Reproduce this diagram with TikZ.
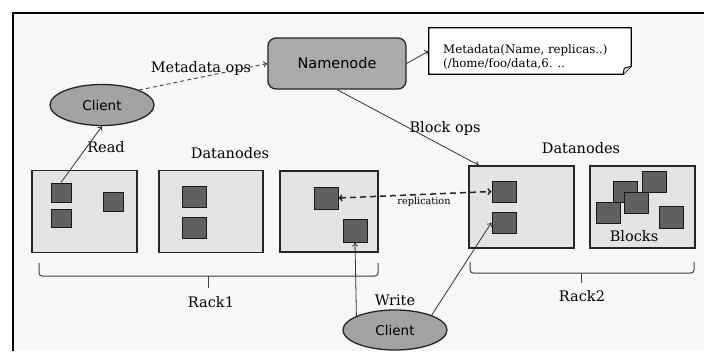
\documentclass[tikz,border=0pt]{standalone}
\usepackage{fontspec}
\setmainfont{DejaVu Serif}
\newfontfamily\nodesans{DejaVu Sans}
\usetikzlibrary{shapes.geometric,arrows.meta,calc}
\definecolor{bgfill}{HTML}{F7F7F7}
\definecolor{boxfill}{HTML}{E3E3E3}
\definecolor{blockfill}{HTML}{606060}
\definecolor{nnfill}{HTML}{AAAAAA}
\definecolor{clientfill}{HTML}{A3A3A3}
\definecolor{linecol}{HTML}{333333}
\begin{document}
\begin{tikzpicture}[x=1pt,y=-1pt,
  rackbox/.style={draw=black!85, line width=1.4pt, fill=boxfill, minimum width=105pt, minimum height=82pt, inner sep=0},
  blk/.style={draw=black!90, line width=1pt, fill=blockfill, minimum width=24pt, minimum height=21pt, inner sep=0},
  smallblk/.style={blk, minimum width=20pt, minimum height=19pt},
  clientnode/.style={ellipse, draw=black!85, line width=1.3pt, fill=clientfill, minimum width=104pt, minimum height=41pt, inner sep=0, font=\nodesans\fontsize{13.5pt}{15pt}\selectfont},
  lbl/.style={inner sep=0, font=\fontsize{14.5pt}{17pt}\selectfont, text=black},
  conn/.style={draw=linecol, line width=0.8pt, -{To[length=4pt,width=6pt]}},
  bracestyle/.style={draw=black!75, line width=1pt}
]
\useasboundingbox (0,0) rectangle (704,351);
\fill[white] (0,0) rectangle (704,351);
\fill[bgfill] (13,13) rectangle (704,351);
\draw[line width=1.3pt] (13,351) -- (13,13) -- (704,13);

% namenode
\node[draw=black!85, line width=1.3pt, fill=nnfill, rounded corners=8pt, minimum width=138pt, minimum height=51pt, inner sep=0, font=\nodesans\fontsize{14.5pt}{16pt}\selectfont] (nn) at (337,63.5) {Namenode};

% metadata note
\node[minimum width=202pt, minimum height=46pt, inner sep=0] (note) at (530,51) {};
\draw[line width=1.2pt, fill=white] (note.north west) -- (note.north east) -- ([yshift=8pt]note.south east) -- ([xshift=-8pt]note.south east) -- (note.south west) -- cycle;
\draw[line width=0.9pt, fill=boxfill] ([yshift=8pt]note.south east) -- ([xshift=-7pt,yshift=6pt]note.south east) -- ([xshift=-8pt]note.south east);
\node[anchor=west, inner sep=0, align=left, font=\fontsize{11.8pt}{14pt}\selectfont] (notetext) at (443,57) {Metadata(Name, replicas..)\\(/home/foo/data,6. ..};

% clients
\node[clientnode] (cl1) at (102,105) {Client};
\node[clientnode, minimum height=40pt] (cl2) at (395,330) {Client};

% rack boxes
\node[rackbox] (r1a) at (84.5,211.5) {};
\node[rackbox, minimum width=104pt] (r1b) at (211,211.5) {};
\node[rackbox, minimum width=98pt, minimum height=81pt] (r1c) at (329,211.5) {};
\node[rackbox] (r2a) at (521.5,207) {};
\node[rackbox] (r2b) at (642.5,207) {};

% blocks
\node[smallblk] (b1) at (61,192.5) {};
\node[smallblk, minimum height=18pt] (b2) at (61,218) {};
\node[smallblk] (b3) at (113,201.5) {};
\node[blk] (b4) at (194,196.5) {};
\node[blk] (b5) at (194,227.5) {};
\node[blk, minimum height=22pt] (b6) at (326,198) {};
\node[blk, minimum height=23pt] (b7) at (355,230.5) {};
\node[blk] (b8) at (504,191.5) {};
\node[blk] (b9) at (504,222.5) {};
\node[blk] (b10) at (608,212.5) {};
\node[blk] (b11) at (625,191.5) {};
\node[blk] (b12) at (654.5,181.5) {};
\node[blk] (b13) at (636.5,202.5) {};
\node[blk, minimum height=22pt] (b14) at (671,217) {};
\node[lbl] (blockslbl) at (634,236) {Blocks};

% labels
\node[lbl] (mdops) at (201,68) {Metadata ops};
\node[lbl] (dn1) at (230,153) {Datanodes};
\node[lbl] (dn2) at (581,148) {Datanodes};
\node[lbl] (readlbl) at (106,147) {Read};
\node[lbl] (writelbl) at (395,300) {Write};
\node[lbl] (blockops) at (445,128) {Block ops};
\node[lbl] (rack1lbl) at (211,302) {Rack1};
\node[lbl] (rack2lbl) at (582,296) {Rack2};
\node[inner sep=0, font=\fontsize{9.7pt}{11pt}\selectfont] (repl) at (424,202) {replication};

% connectors
\draw[conn, dashed, dash pattern=on 4pt off 3pt] (cl1.22) -- (nn.west);
\draw[conn] (nn.east) -- (note.west);
\coordinate (bopsend) at ($(r2a.north west)!0.1!(r2a.north east)$);
\draw[conn] (nn.south) -- (bopsend);
\draw[conn] (b1.north) -- (cl1.south);
\draw[draw=black!85, line width=1.5pt, dash pattern=on 6pt off 4pt, {To[length=4pt,width=7pt]}-{To[length=4pt,width=7pt]}] (b6.east) -- (b8.west);
\draw[conn] (cl2.160) -- (b7.south);
\draw[conn] (cl2.22) -- (b9.west);

% braces
\draw[bracestyle, rounded corners=3pt] (39,263) -- (39,276) -- (378,276) -- (378,263);
\draw[bracestyle] (208,276) -- (208,288);
\draw[bracestyle, rounded corners=3pt] (470,262) -- (470,273) -- (694,273) -- (694,262);
\draw[bracestyle] (581,273) -- (581,283);
\end{tikzpicture}
\end{document}
